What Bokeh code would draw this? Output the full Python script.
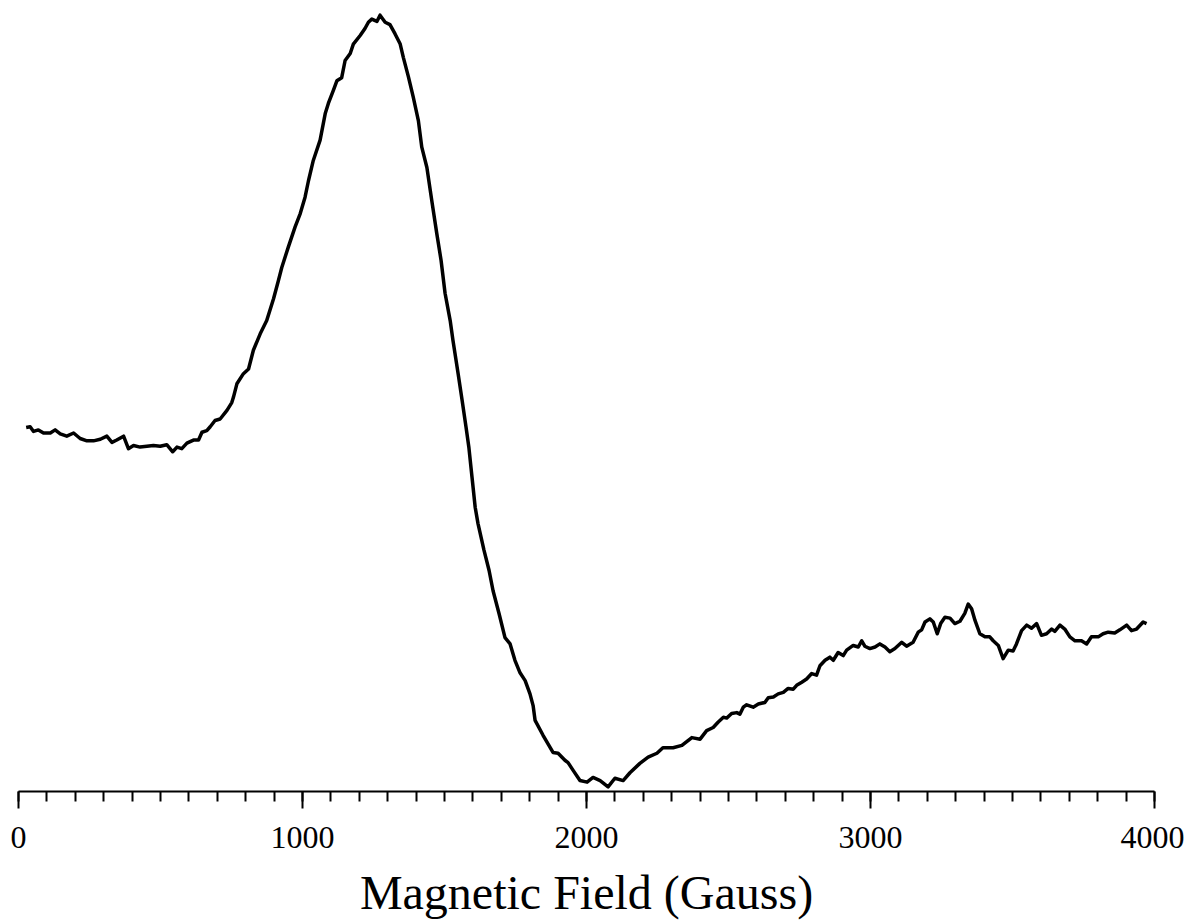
from bokeh.plotting import figure
from bokeh.models import Range1d, SingleIntervalTicker
from bokeh.embed import file_html
from bokeh.resources import INLINE

# Magnetic field (Gauss)
field = [27, 41, 53, 70, 88, 112, 129, 147, 170, 194, 217, 241, 264, 288, 311, 329, 346, 370, 387, 405,
         428, 452, 475, 499, 522, 543, 558, 575, 593, 616, 634, 646, 663, 675, 692, 710, 734, 751, 757, 769,
         792, 810, 827, 851, 874, 898, 915, 927, 950, 974, 992, 1009, 1021, 1038, 1062, 1080, 1091, 1109, 1121, 1138,
         1150, 1168, 1179, 1203, 1220, 1232, 1244, 1262, 1273, 1291, 1308, 1326, 1344, 1355, 1373, 1390, 1408, 1420, 1438, 1455,
         1473, 1488, 1502, 1520, 1530, 1548, 1562, 1576, 1586, 1597, 1608, 1618, 1639, 1657, 1671, 1692, 1713, 1731, 1748, 1766,
         1784, 1801, 1812, 1819, 1847, 1882, 1900, 1924, 1935, 1953, 1977, 2002, 2023, 2048, 2076, 2100, 2129, 2153, 2188, 2217,
         2248, 2269, 2305, 2336, 2371, 2400, 2423, 2446, 2464, 2482, 2494, 2511, 2529, 2540, 2552, 2564, 2587, 2605, 2628, 2640,
         2658, 2675, 2693, 2710, 2728, 2740, 2758, 2775, 2793, 2810, 2822, 2840, 2857, 2869, 2886, 2904, 2916, 2939, 2957, 2969,
         2980, 2998, 3016, 3033, 3051, 3068, 3086, 3110, 3127, 3150, 3168, 3180, 3192, 3209, 3221, 3235, 3247, 3262, 3280, 3297,
         3315, 3332, 3344, 3356, 3368, 3385, 3403, 3420, 3432, 3450, 3467, 3485, 3502, 3514, 3532, 3550, 3567, 3585, 3602, 3620,
         3638, 3649, 3667, 3684, 3702, 3720, 3743, 3761, 3778, 3802, 3819, 3837, 3860, 3878, 3902, 3919, 3937, 3960, 3972]

# EPR derivative signal (arbitrary units)
signal = [46.6, 46.7, 46.1, 46.3, 45.9, 45.9, 46.3, 45.8, 45.5, 45.9, 45.2, 44.9, 44.9, 45.1, 45.5, 44.7, 45.0, 45.5, 43.9, 44.3,
          44.1, 44.2, 44.3, 44.2, 44.4, 43.5, 44.1, 43.9, 44.6, 45.0, 45.0, 46.0, 46.2, 46.7, 47.5, 47.7, 48.8, 49.8, 50.5, 52.2,
          53.5, 54.1, 56.5, 58.6, 60.3, 63.1, 65.4, 67.1, 69.7, 72.3, 74.0, 76.1, 78.2, 80.8, 83.4, 86.8, 88.1, 89.8, 91.0, 91.4,
          93.6, 94.5, 95.7, 96.8, 97.7, 98.5, 98.9, 98.6, 99.4, 98.5, 98.2, 97.0, 95.7, 94.0, 91.5, 88.9, 85.9, 82.5, 79.9, 75.7,
          71.4, 68.0, 63.8, 60.3, 57.7, 53.5, 50.1, 46.6, 44.0, 40.2, 36.4, 34.3, 30.9, 28.3, 25.7, 22.8, 19.7, 18.9, 16.8, 15.2,
          14.2, 12.5, 11.0, 9.1, 7.2, 5.0, 4.9, 4.0, 3.7, 2.7, 1.4, 1.2, 1.8, 1.4, 0.6, 1.7, 1.4, 2.4, 3.6, 4.4,
          4.9, 5.6, 5.6, 5.9, 6.9, 6.7, 7.8, 8.2, 8.9, 9.5, 9.4, 10.0, 10.1, 9.9, 10.8, 11.1, 10.8, 11.2, 11.4, 12.0,
          12.1, 12.5, 12.7, 13.2, 13.1, 13.6, 14.0, 14.4, 15.1, 14.9, 16.1, 16.8, 17.2, 16.8, 17.8, 17.4, 18.1, 18.7, 18.5, 19.3,
          18.6, 18.3, 18.5, 18.9, 18.5, 17.9, 18.3, 19.1, 18.6, 19.1, 20.4, 20.7, 21.7, 22.1, 21.7, 20.2, 21.5, 22.3, 22.2, 21.5,
          21.8, 22.8, 24.0, 23.4, 21.9, 20.2, 19.8, 19.8, 19.3, 18.7, 17.0, 18.1, 18.0, 18.9, 20.6, 21.3, 20.9, 21.5, 20.0, 20.2,
          20.8, 20.5, 21.3, 20.8, 19.8, 19.3, 19.3, 18.9, 19.8, 19.8, 20.2, 20.4, 20.3, 20.7, 21.3, 20.6, 20.8, 21.7, 21.5]

x_ticks_interval = 1000
axis_title = "Magnetic Field (Gauss)"

p = figure(frame_width=1136, frame_height=781, output_backend="svg", toolbar_location=None,
           x_range=Range1d(0, 4000), y_range=Range1d(0, 100),
           y_axis_location=None, min_border_left=18, min_border_top=10, min_border_right=30,
           min_border_bottom=0)
p.outline_line_color = None
p.grid.visible = False
p.background_fill_color = "white"
p.border_fill_color = "white"

p.line(field, signal, line_color="black", line_width=3.5, line_join="round")

ax = p.xaxis[0]
ax.ticker = SingleIntervalTicker(interval=x_ticks_interval, num_minor_ticks=10)
ax.axis_line_width = 2
ax.axis_line_color = "black"
ax.major_tick_line_width = 2
ax.minor_tick_line_width = 2
ax.major_tick_out = 17
ax.major_tick_in = 0
ax.minor_tick_out = 10
ax.minor_tick_in = 0
ax.major_label_text_font = "Liberation Serif"
ax.major_label_text_font_size = "32px"
ax.major_label_text_color = "black"
ax.major_label_standoff = 18
ax.axis_label = axis_title
ax.axis_label_text_font = "Liberation Serif"
ax.axis_label_text_font_size = "48px"
ax.axis_label_text_font_style = "normal"
ax.axis_label_text_color = "black"
ax.axis_label_standoff = 15

open("out.html", "w").write(file_html(p, INLINE))
